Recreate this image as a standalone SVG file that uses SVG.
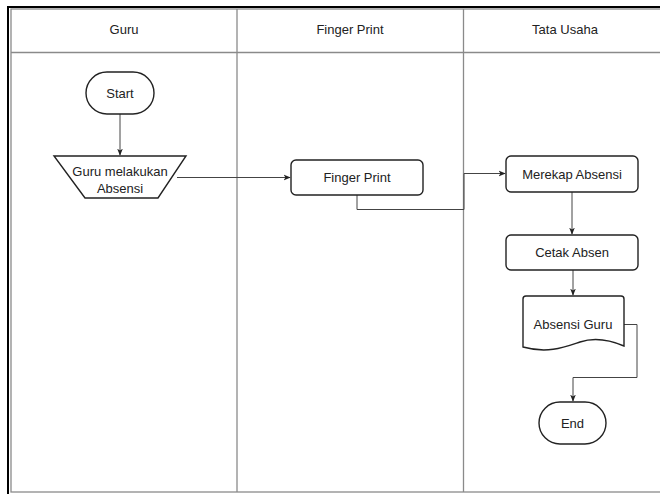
<svg xmlns="http://www.w3.org/2000/svg" width="660" height="494" viewBox="0 0 660 494">
<defs>
<style>
.lane{fill:none;stroke:#8a8a8a;stroke-width:1.3}
.node{fill:#fff;stroke:#222;stroke-width:1.4}
.conn{fill:none;stroke:#444;stroke-width:1}
.t{font-family:"Liberation Sans",Arial,sans-serif;font-size:13px;fill:#222;text-anchor:middle}
</style>
<marker id="arr" viewBox="0 0 10 10" refX="9" refY="5" markerWidth="7" markerHeight="7" orient="auto" markerUnits="userSpaceOnUse">
<path d="M0,1 L10,5 L0,9 L2.5,5 Z" fill="#222"/>
</marker>
</defs>
<rect width="660" height="494" fill="#fff"/>
<g id="frame">
<rect class="lane" x="11" y="9" width="660" height="483"/>
<line class="lane" x1="11" y1="52.5" x2="660" y2="52.5"/>
<line class="lane" x1="237" y1="9" x2="237" y2="492"/>
<line class="lane" x1="463.5" y1="9" x2="463.5" y2="492"/>
<line x1="8" y1="7" x2="660" y2="7" stroke="#000" stroke-width="2.2"/>
<line x1="8" y1="6" x2="8" y2="494" stroke="#000" stroke-width="2"/>
<text class="t" x="124" y="34">Guru</text>
<text class="t" x="350" y="34">Finger Print</text>
<text class="t" x="565" y="34">Tata Usaha</text>
</g>
<g id="connectors">
<line class="conn" x1="120" y1="114" x2="120" y2="155" marker-end="url(#arr)"/>
<line class="conn" x1="177" y1="177.5" x2="290" y2="177.5" marker-end="url(#arr)"/>
<polyline class="conn" points="357,195 357,209.5 464,209.5 464,173.5 505,173.5" marker-end="url(#arr)"/>
<line class="conn" x1="572" y1="192" x2="572" y2="234" marker-end="url(#arr)"/>
<line class="conn" x1="573" y1="270" x2="573" y2="295" marker-end="url(#arr)"/>
<polyline class="conn" points="624,324.5 637,324.5 637,377.5 573,377.5 573,401" marker-end="url(#arr)"/>
</g>
<g id="start">
<rect class="node" x="86" y="72" width="68" height="42" rx="21" ry="21"/>
<text class="t" x="120" y="98">Start</text>
</g>
<g id="guru-absensi">
<polygon class="node" points="54,156 186,156 158,198 85,198"/>
<text class="t" x="120" y="176">Guru melakukan</text>
<text class="t" x="120" y="193">Absensi</text>
</g>
<g id="finger-print">
<rect class="node" x="291" y="160" width="132" height="35" rx="5" ry="5"/>
<text class="t" x="357" y="182">Finger Print</text>
</g>
<g id="merekap">
<rect class="node" x="506" y="156" width="132" height="36" rx="5" ry="5"/>
<text class="t" x="572" y="178.5">Merekap Absensi</text>
</g>
<g id="cetak">
<rect class="node" x="506" y="235" width="132" height="35" rx="5" ry="5"/>
<text class="t" x="572" y="257">Cetak Absen</text>
</g>
<g id="absensi-guru">
<path class="node" d="M526,296 L621,296 Q624,296 624,299 L624,346 C610,340 595,337 580,342 C565,347 548,354 523,347 L523,299 Q523,296 526,296 Z"/>
<text class="t" x="573" y="329">Absensi Guru</text>
</g>
<g id="end">
<rect class="node" x="539" y="402" width="67" height="42" rx="21" ry="21"/>
<text class="t" x="572.5" y="428">End</text>
</g>
</svg>
